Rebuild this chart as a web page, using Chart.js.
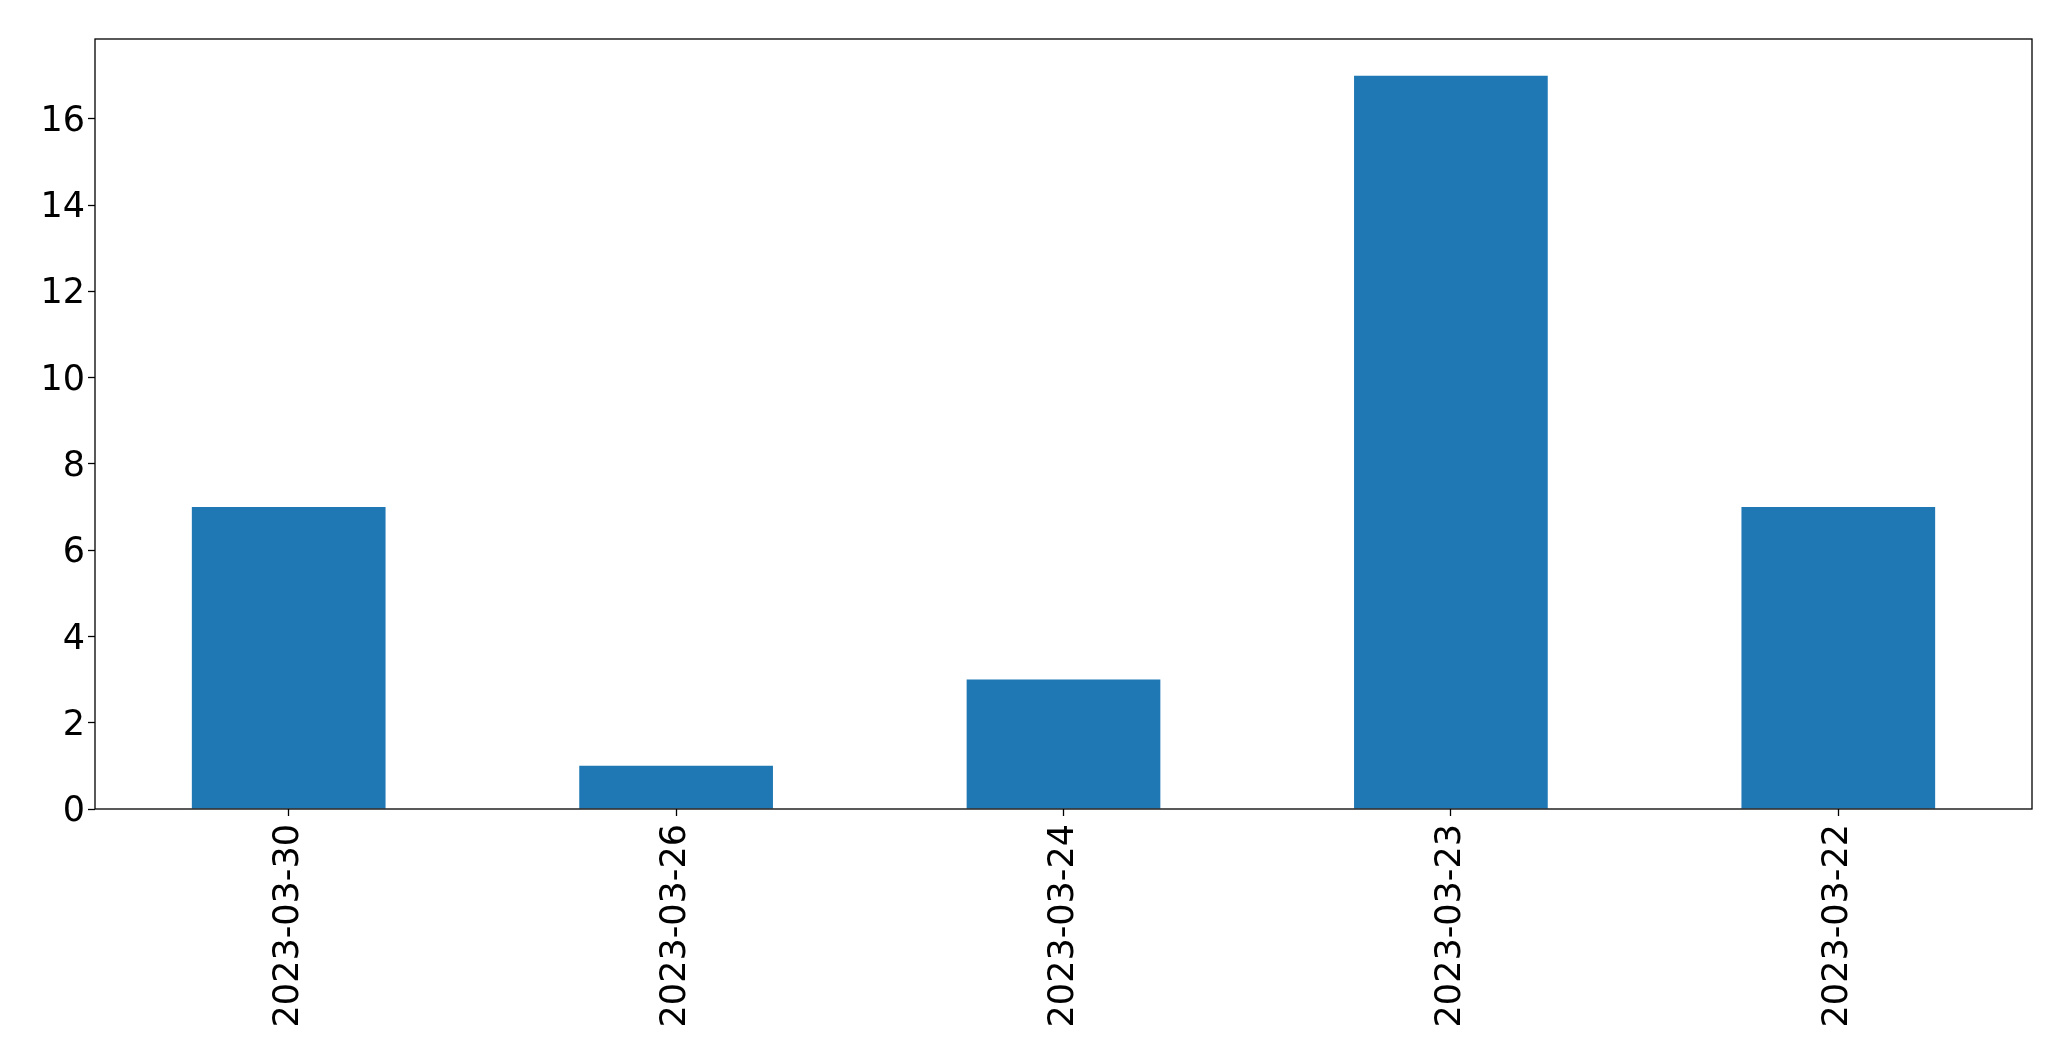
<!DOCTYPE html>
<html>
<head>
<meta charset="utf-8">
<script src="https://cdn.jsdelivr.net/npm/chart.js@4/dist/chart.umd.min.js"></script>
<style>
  html, body { margin: 0; padding: 0; background: #ffffff; }
  canvas { display: block; }
</style>
</head>
<body>
<canvas id="bar-chart" width="2071" height="1061"></canvas>
<script>
// Data
const dates = ['2023-03-30', '2023-03-26', '2023-03-24', '2023-03-23', '2023-03-22'];
const counts = [7, 1, 3, 17, 7];
const yTicks = [0, 2, 4, 6, 8, 10, 12, 14, 16];

const barColor = '#1f77b4';
const fontFamily = '"DejaVu Sans", sans-serif';

// Draw the full box round the plot area, like matplotlib's spines
const frameBox = {
  id: 'frameBox',
  afterDraw(chart) {
    const { ctx, chartArea: a } = chart;
    ctx.save();
    ctx.strokeStyle = '#000000';
    ctx.lineWidth = 1.3;
    ctx.strokeRect(a.left, a.top, a.right - a.left, a.bottom - a.top);
    ctx.restore();
  }
};

new Chart(document.getElementById('bar-chart'), {
  type: 'bar',
  data: {
    labels: dates,
    datasets: [{
      data: counts,
      backgroundColor: barColor,
      borderWidth: 0,
      barPercentage: 0.5,
      categoryPercentage: 1.0
    }]
  },
  options: {
    responsive: false,
    animation: false,
    layout: {
      padding: { left: 0, top: 39, right: 39, bottom: 0 }
    },
    plugins: {
      legend: { display: false },
      tooltip: { enabled: false }
    },
    scales: {
      x: {
        offset: true,
        grid: {
          display: true,
          drawOnChartArea: false,
          drawTicks: true,
          tickLength: 7,
          tickWidth: 1.3,
          color: '#000000',
          offset: false
        },
        border: { display: false },
        ticks: {
          color: '#000000',
          font: { family: fontFamily, size: 35 },
          minRotation: 90,
          maxRotation: 90,
          autoSkip: false,
          padding: 8
        },
        afterFit: (scale) => { scale.height = 252; }
      },
      y: {
        min: 0,
        max: 17.85,
        afterBuildTicks: (scale) => {
          scale.ticks = yTicks.map(v => ({ value: v }));
        },
        grid: {
          display: true,
          drawOnChartArea: false,
          drawTicks: true,
          tickLength: 7,
          tickWidth: 1.3,
          color: '#000000'
        },
        border: { display: false },
        ticks: {
          color: '#000000',
          font: { family: fontFamily, size: 35 },
          padding: 3,
          labelOffset: 3
        },
        afterFit: (scale) => { scale.width = 95; }
      }
    }
  },
  plugins: [frameBox]
});
</script>
</body>
</html>
